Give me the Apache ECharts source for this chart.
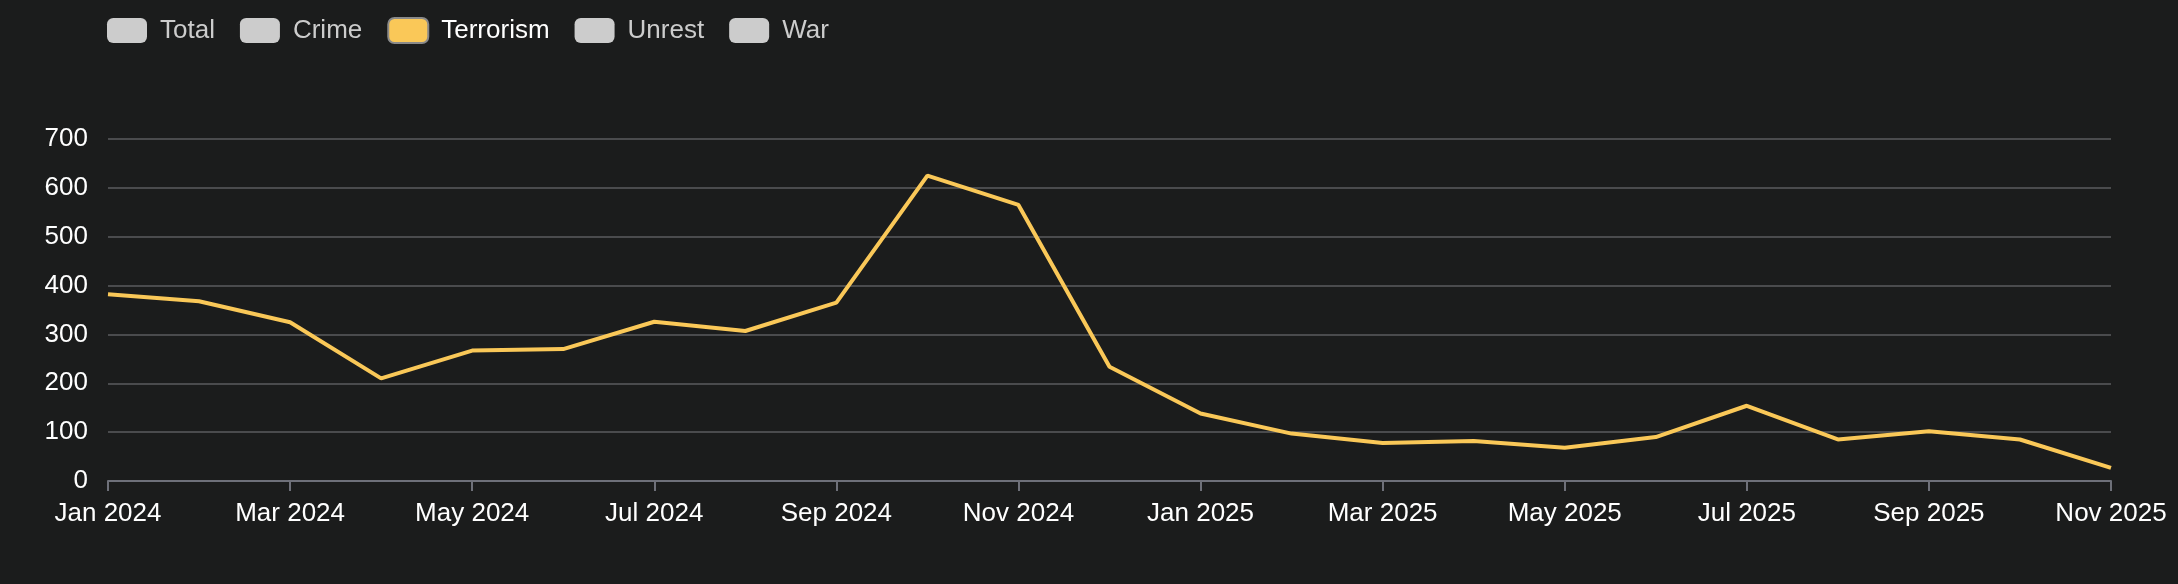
<!DOCTYPE html>
<html>
<head>
<meta charset="utf-8">
<script src="https://cdn.jsdelivr.net/npm/echarts@6/dist/echarts.min.js"></script>
<style>
html,body{margin:0;padding:0;background:#1b1c1c;}
#chart{width:2178px;height:584px;}
</style>
</head>
<body>
<div id="chart"></div>
<script>
const months = ["Jan 2024","Feb 2024","Mar 2024","Apr 2024","May 2024","Jun 2024","Jul 2024","Aug 2024","Sep 2024","Oct 2024","Nov 2024","Dec 2024",
  "Jan 2025","Feb 2025","Mar 2025","Apr 2025","May 2025","Jun 2025","Jul 2025","Aug 2025","Sep 2025","Oct 2025","Nov 2025"];
const seriesNames = ["Total","Crime","Terrorism","Unrest","War"];
const terrorism = [382,368,325,210,267,270,326,307,365,625,565,234,138,97,78,82,68,90,154,85,102,85,27];
const yTicks = [0,100,200,300,400,500,600,700];

const FONT = "'Liberation Sans', Arial, sans-serif";
const chart = echarts.init(document.getElementById('chart'));
const series = seriesNames.map(n => ({
  name: n,
  type: 'line',
  data: n === 'Terrorism' ? terrorism : [],
  showSymbol: false,
  symbol: 'none',
  lineStyle: { width: 4 },
  emphasis: { disabled: true }
}));
const selected = {};
seriesNames.forEach(n => selected[n] = (n === 'Terrorism'));
chart.setOption({
  backgroundColor: '#1b1c1c',
  animation: false,
  color: ['#5470c6','#91cc75','#fac858','#ee6666','#73c0de'],
  legend: {
    left: 102,
    top: 12,
    icon: 'roundRect',
    itemWidth: 40,
    itemHeight: 25,
    itemGap: 25,
    selected: selected,
    inactiveColor: '#cccccc',
    data: seriesNames.map(n => n === 'Terrorism'
      ? { name: n, itemStyle: { borderColor: '#8a8a8a', borderWidth: 2 } }
      : { name: n }),
    textStyle: { color: '#ffffff', fontSize: 26, fontFamily: FONT, padding: [0,0,0,8] }
  },
  grid: { left: 108, right: 67, top: 139, bottom: 103, containLabel: false },
  xAxis: {
    type: 'category',
    data: months,
    boundaryGap: false,
    axisLine: { lineStyle: { color: '#6e7079', width: 2 } },
    axisTick: { interval: 1, length: 10, lineStyle: { color: '#6e7079', width: 2 } },
    axisLabel: { interval: 1, color: '#ffffff', fontSize: 26, fontFamily: FONT, margin: 20 },
    splitLine: { show: false }
  },
  yAxis: {
    type: 'value',
    min: yTicks[0],
    max: yTicks[yTicks.length - 1],
    interval: 100,
    axisLine: { show: false },
    axisTick: { show: false },
    axisLabel: { color: '#ffffff', fontSize: 26, fontFamily: FONT, margin: 20 },
    splitLine: { lineStyle: { color: '#4a4b4d', width: 2 } }
  },
  series: series
});
</script>
</body>
</html>
